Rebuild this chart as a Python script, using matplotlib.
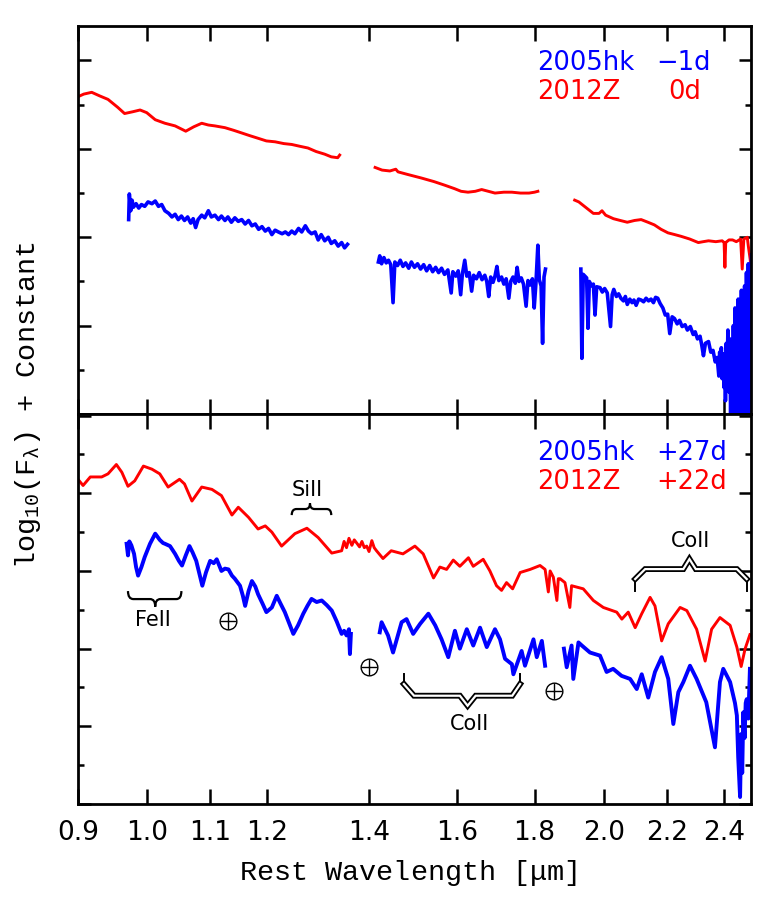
import matplotlib
matplotlib.use("Agg")
import matplotlib.pyplot as plt
from matplotlib.path import Path
from matplotlib.patches import PathPatch
from matplotlib.ticker import FixedLocator, NullLocator, MultipleLocator

plt.rcParams["font.family"] = ["DejaVu Sans"]
plt.rcParams["mathtext.fontset"] = "custom"
plt.rcParams["mathtext.rm"] = "Liberation Mono"
plt.rcParams["mathtext.it"] = "Liberation Mono:italic"
plt.rcParams["mathtext.default"] = "rm"

# ---- data (rest wavelength in micron, log flux + constant) ----
# top panel: 2012Z at 0d (red)
z12_max_w1 = [0.900, 0.908, 0.919, 0.930, 0.942, 0.956, 0.966, 0.978, 0.989, 0.999,
              1.012, 1.027, 1.043, 1.060, 1.073, 1.086, 1.097, 1.108, 1.125, 1.140,
              1.154, 1.168, 1.183, 1.198, 1.214, 1.230, 1.245, 1.260, 1.276, 1.292,
              1.309, 1.322, 1.335, 1.339]
z12_max_f1 = [3.59, 3.62, 3.64, 3.60, 3.56, 3.47, 3.40, 3.42, 3.44, 3.41,
              3.33, 3.29, 3.26, 3.20, 3.25, 3.29, 3.27, 3.26, 3.24, 3.21,
              3.18, 3.15, 3.12, 3.09, 3.08, 3.06, 3.05, 3.03, 3.01, 2.97,
              2.94, 2.91, 2.90, 2.93]
z12_max_w2 = [1.413, 1.428, 1.445, 1.458, 1.463, 1.485, 1.516, 1.545, 1.570, 1.594,
              1.610, 1.627, 1.645, 1.661, 1.678, 1.695, 1.718, 1.739, 1.762, 1.785,
              1.800, 1.809]
z12_max_f2 = [2.79, 2.76, 2.75, 2.77, 2.74, 2.71, 2.67, 2.63, 2.59, 2.55,
              2.52, 2.51, 2.52, 2.54, 2.52, 2.50, 2.51, 2.51, 2.50, 2.50,
              2.51, 2.52]
z12_max_w3 = [1.913, 1.925, 1.948, 1.968, 1.985, 1.994, 2.005, 2.029, 2.050, 2.072,
              2.095, 2.116, 2.138, 2.159, 2.181, 2.204, 2.227, 2.249, 2.278, 2.308,
              2.325, 2.344, 2.370, 2.393, 2.400, 2.403, 2.406, 2.418, 2.431, 2.445,
              2.461, 2.467, 2.473, 2.486, 2.490, 2.497, 2.502]
z12_max_f3 = [2.42, 2.40, 2.33, 2.27, 2.27, 2.30, 2.25, 2.21, 2.19, 2.17,
              2.19, 2.20, 2.17, 2.14, 2.09, 2.05, 2.03, 2.01, 1.98, 1.94,
              1.95, 1.96, 1.95, 1.96, 1.94, 1.66, 1.94, 1.97, 1.97, 1.95,
              1.98, 1.64, 1.98, 2.00, 1.90, 1.75, 1.55]

# top panel: 2005hk at -1d (blue)
hk_max_w1 = [0.972, 0.973, 0.975, 0.977, 0.979, 0.983, 0.987, 0.991, 0.996, 1.001,
             1.007, 1.012, 1.017, 1.022, 1.027, 1.033, 1.038, 1.043, 1.048, 1.053,
             1.058, 1.063, 1.068, 1.072, 1.076, 1.080, 1.086, 1.091, 1.097, 1.102,
             1.108, 1.114, 1.119, 1.125, 1.130, 1.136, 1.142, 1.148, 1.154, 1.160,
             1.166, 1.172, 1.178, 1.184, 1.190, 1.196, 1.202, 1.208, 1.214, 1.220,
             1.227, 1.233, 1.239, 1.245, 1.251, 1.258, 1.264, 1.271, 1.277, 1.283,
             1.290, 1.296, 1.302, 1.309, 1.316, 1.322, 1.329, 1.336, 1.343, 1.349,
             1.355]
hk_max_f1 = [2.20, 2.49, 2.30, 2.42, 2.34, 2.38, 2.33, 2.37, 2.35, 2.40,
             2.38, 2.41, 2.35, 2.37, 2.30, 2.27, 2.23, 2.26, 2.20, 2.24,
             2.19, 2.23, 2.16, 2.21, 2.11, 2.20, 2.25, 2.22, 2.30, 2.23,
             2.25, 2.20, 2.24, 2.19, 2.23, 2.17, 2.22, 2.18, 2.20, 2.15,
             2.19, 2.13, 2.15, 2.09, 2.12, 2.07, 2.10, 2.03, 2.08, 2.06,
             2.04, 2.06, 2.03, 2.07, 2.04, 2.10, 2.06, 2.13, 2.07, 2.04,
             2.06, 1.97, 2.03, 1.96, 2.00, 1.93, 1.96, 1.90, 1.94, 1.88,
             1.92]
hk_max_w2 = [1.420, 1.423, 1.427, 1.432, 1.437, 1.442, 1.447, 1.452, 1.456, 1.462,
             1.468, 1.474, 1.480, 1.487, 1.493, 1.500, 1.507, 1.514, 1.521, 1.528,
             1.535, 1.542, 1.549, 1.556, 1.563, 1.570, 1.578, 1.586, 1.590, 1.597,
             1.603, 1.609, 1.613, 1.619, 1.624, 1.630, 1.636, 1.641, 1.648, 1.655,
             1.662, 1.669, 1.674, 1.679, 1.684, 1.690, 1.695, 1.700, 1.705, 1.712,
             1.718, 1.724, 1.731, 1.736, 1.742, 1.748, 1.753, 1.758, 1.764, 1.770,
             1.777, 1.782, 1.788, 1.794, 1.799, 1.804, 1.809, 1.813, 1.818, 1.822,
             1.826, 1.830]
hk_max_f2 = [1.72, 1.79, 1.70, 1.77, 1.71, 1.74, 1.69, 1.26, 1.72, 1.68,
             1.74, 1.67, 1.71, 1.65, 1.72, 1.66, 1.70, 1.64, 1.69, 1.62,
             1.68, 1.61, 1.66, 1.60, 1.65, 1.58, 1.63, 1.37, 1.61, 1.56,
             1.62, 1.35, 1.58, 1.74, 1.56, 1.60, 1.39, 1.57, 1.53, 1.60,
             1.52, 1.57, 1.50, 1.33, 1.55, 1.49, 1.56, 1.67, 1.51, 1.55,
             1.47, 1.53, 1.31, 1.50, 1.55, 1.48, 1.66, 1.50, 1.54, 1.47,
             1.22, 1.51, 1.46, 1.53, 1.20, 1.50, 1.91, 1.52, 1.45, 0.80,
             1.55, 1.64]
hk_max_w3 = [1.931, 1.934, 1.938, 1.948, 1.952, 1.956, 1.962, 1.968, 1.973, 1.978,
             1.988, 1.995, 2.002, 2.010, 2.020, 2.025, 2.030, 2.038, 2.045, 2.052,
             2.060, 2.066, 2.072, 2.080, 2.087, 2.093, 2.100, 2.108, 2.116, 2.124,
             2.132, 2.140, 2.148, 2.156, 2.163, 2.170, 2.178, 2.187, 2.195, 2.203,
             2.210, 2.218, 2.226, 2.235, 2.243, 2.252, 2.262, 2.270, 2.280, 2.290,
             2.297, 2.305, 2.314, 2.320, 2.326, 2.333, 2.344, 2.352, 2.360, 2.368,
             2.375, 2.381, 2.384, 2.387, 2.390, 2.393, 2.396, 2.400, 2.403, 2.405,
             2.408, 2.411, 2.414, 2.418, 2.421, 2.424, 2.427, 2.431, 2.434, 2.437,
             2.440, 2.443, 2.446, 2.449, 2.452, 2.455, 2.458, 2.461, 2.464, 2.467,
             2.470, 2.473, 2.476, 2.480, 2.483, 2.487, 2.490, 2.493, 2.496, 2.499,
             2.502]
hk_max_f3 = [1.64, 0.63, 1.58, 1.54, 0.97, 1.50, 1.45, 1.47, 1.12, 1.44,
             1.43, 1.38, 1.42, 1.37, 0.99, 1.35, 1.41, 1.33, 1.36, 1.31,
             1.28, 1.33, 1.24, 1.30, 1.26, 1.29, 1.23, 1.30, 1.29, 1.27,
             1.31, 1.28, 1.30, 1.26, 1.32, 1.31, 1.25, 1.20, 1.12, 1.13,
             0.91, 1.10, 1.08, 1.02, 1.06, 0.99, 1.01, 0.95, 0.99, 0.90,
             0.93, 0.85, 0.88, 0.78, 0.66, 0.80, 0.82, 0.70, 0.72, 0.59,
             0.64, 0.43, 0.70, 0.50, 0.75, 0.40, 0.68, 0.30, 0.62, 0.15,
             0.80, 0.45, 0.95, 0.25, 0.85, -0.05, 0.70, -0.10, 1.00, 0.20,
             1.20, -0.10, 0.90, 0.10, 1.30, -0.10, 1.10, 0.30, 1.40, -0.10,
             1.20, 0.20, 1.45, -0.10, 1.60, 0.10, 1.70, -0.10, 1.60, 0.20,
             1.80]

# bottom panel: 2012Z at +22d (red)
z12_late_w = [0.900, 0.907, 0.917, 0.933, 0.942, 0.954, 0.962, 0.971, 0.981, 0.994,
              1.007, 1.019, 1.032, 1.050, 1.058, 1.070, 1.086, 1.103, 1.119, 1.137,
              1.148, 1.166, 1.183, 1.196, 1.208, 1.226, 1.251, 1.274, 1.296, 1.323,
              1.343, 1.348, 1.353, 1.358, 1.364, 1.369, 1.374, 1.380, 1.385, 1.390,
              1.395, 1.400, 1.406, 1.411, 1.416, 1.430, 1.448, 1.474, 1.501, 1.520,
              1.544, 1.559, 1.575, 1.591, 1.607, 1.628, 1.640, 1.665, 1.682, 1.699,
              1.712, 1.725, 1.741, 1.761, 1.788, 1.815, 1.829, 1.838, 1.843, 1.852,
              1.862, 1.866, 1.871, 1.885, 1.899, 1.904, 1.938, 1.968, 1.998, 2.039,
              2.055, 2.075, 2.097, 2.118, 2.145, 2.161, 2.183, 2.205, 2.245, 2.268,
              2.302, 2.332, 2.355, 2.385, 2.422, 2.447, 2.463, 2.478, 2.496]
z12_late_f = [4.18, 4.10, 4.21, 4.21, 4.25, 4.37, 4.27, 4.09, 4.16, 4.35,
              4.31, 4.25, 4.08, 4.18, 4.12, 3.90, 4.08, 4.05, 3.97, 3.72,
              3.82, 3.69, 3.54, 3.58, 3.50, 3.32, 3.48, 3.55, 3.43, 3.23,
              3.26, 3.38, 3.30, 3.42, 3.33, 3.40, 3.36, 3.31, 3.38, 3.30,
              3.32, 3.25, 3.39, 3.30, 3.26, 3.16, 3.26, 3.22, 3.32, 3.22,
              2.91, 3.05, 3.02, 3.14, 3.06, 3.17, 3.06, 3.15, 3.00, 2.81,
              2.75, 2.85, 2.77, 2.98, 3.02, 3.07, 3.02, 2.73, 3.00, 2.92,
              2.62, 2.90, 2.90, 2.85, 2.53, 2.81, 2.77, 2.62, 2.53, 2.47,
              2.38, 2.47, 2.27, 2.45, 2.66, 2.55, 2.10, 2.32, 2.53, 2.49,
              2.25, 1.84, 2.25, 2.40, 2.30, 2.02, 1.77, 2.00, 2.18]

# bottom panel: 2005hk at +27d (blue)
hk_late_w1 = [0.969, 0.971, 0.973, 0.976, 0.980, 0.983, 0.986, 0.991, 0.996, 1.004,
              1.012, 1.019, 1.024, 1.027, 1.035, 1.043, 1.049, 1.054, 1.060, 1.066,
              1.071, 1.077, 1.082, 1.087, 1.093, 1.100, 1.106, 1.111, 1.119, 1.125,
              1.131, 1.137, 1.142, 1.151, 1.156, 1.160, 1.166, 1.172, 1.178, 1.183,
              1.191, 1.198, 1.208, 1.217, 1.224, 1.232, 1.240, 1.248, 1.257, 1.267,
              1.275, 1.283, 1.293, 1.303, 1.313, 1.323, 1.333, 1.343, 1.348, 1.353,
              1.358, 1.360, 1.362]
hk_late_f1 = [3.35, 3.20, 3.38, 3.33, 3.22, 3.05, 2.94, 3.05, 3.18, 3.35,
              3.48, 3.40, 3.36, 3.35, 3.32, 3.22, 3.13, 3.07, 3.20, 3.32,
              3.24, 3.13, 2.97, 2.81, 2.98, 3.13, 3.10, 3.15, 3.00, 3.03,
              3.02, 2.94, 2.90, 2.81, 2.68, 2.55, 2.74, 2.87, 2.80, 2.70,
              2.58, 2.47, 2.53, 2.68, 2.58, 2.47, 2.33, 2.19, 2.30, 2.45,
              2.55, 2.64, 2.60, 2.62, 2.56, 2.49, 2.35, 2.19, 2.23, 2.17,
              2.25, 1.93, 2.19]
hk_late_w2 = [1.423, 1.427, 1.441, 1.452, 1.471, 1.482, 1.497, 1.513, 1.532, 1.548,
              1.563, 1.579, 1.595, 1.607, 1.624, 1.640, 1.657, 1.674, 1.695, 1.708,
              1.721, 1.739, 1.743, 1.765, 1.774, 1.797, 1.806, 1.820, 1.829]
hk_late_f2 = [2.21, 2.34, 2.17, 1.95, 2.34, 2.38, 2.19, 2.32, 2.45, 2.30,
              2.12, 1.89, 2.23, 2.00, 2.25, 2.04, 2.27, 2.02, 2.25, 2.12,
              1.87, 1.80, 1.67, 1.97, 1.78, 2.12, 1.89, 2.10, 1.78]
hk_late_w3 = [1.882, 1.890, 1.904, 1.909, 1.924, 1.934, 1.958, 1.988, 2.008, 2.028,
              2.054, 2.081, 2.102, 2.118, 2.139, 2.161, 2.183, 2.205, 2.222, 2.239,
              2.256, 2.279, 2.302, 2.336, 2.367, 2.385, 2.397, 2.422, 2.440, 2.447,
              2.452, 2.459, 2.463, 2.467, 2.471, 2.476, 2.480, 2.484, 2.490, 2.496]
hk_late_f3 = [2.00, 1.76, 2.04, 1.61, 2.08, 2.04, 1.95, 1.91, 1.70, 1.74,
              1.65, 1.61, 1.48, 1.67, 1.37, 1.70, 1.89, 1.61, 1.03, 1.44,
              1.57, 1.78, 1.61, 1.31, 0.73, 1.57, 1.74, 1.57, 1.30, 1.14,
              0.60, 0.09, 0.90, 0.40, 1.18, 0.85, 1.30, 1.35, 1.10, 1.74]

xtick_vals = [0.9, 1.0, 1.1, 1.2, 1.4, 1.6, 1.8, 2.0, 2.2, 2.4]
xtick_labels = ["0.9", "1.0", "1.1", "1.2", "1.4", "1.6", "1.8", "2.0", "2.2", "2.4"]

RED = "#ff0000"
BLUE = "#0000ff"

fig = plt.figure(figsize=(7.75, 9.04), dpi=100)
ax1 = fig.add_axes([0.1006, 0.5409, 0.8684, 0.4292])
ax2 = fig.add_axes([0.1006, 0.1095, 0.8684, 0.4314])

for w, f in [(z12_max_w1, z12_max_f1), (z12_max_w2, z12_max_f2), (z12_max_w3, z12_max_f3)]:
    ax1.plot(w, f, color=RED, lw=2.1)
for w, f in [(hk_max_w1, hk_max_f1), (hk_max_w2, hk_max_f2), (hk_max_w3, hk_max_f3)]:
    ax1.plot(w, f, color=BLUE, lw=2.6)

ax2.plot(z12_late_w, z12_late_f, color=RED, lw=2.1)
for w, f in [(hk_late_w1, hk_late_f1), (hk_late_w2, hk_late_f2), (hk_late_w3, hk_late_f3)]:
    ax2.plot(w, f, color=BLUE, lw=2.8)

ax1.set_ylim(0, 4.39)
ax2.set_ylim(0, 5.02)

for ax in (ax1, ax2):
    ax.set_xscale("log")
    ax.set_xlim(0.9, 2.5)
    ax.xaxis.set_major_locator(FixedLocator(xtick_vals))
    ax.xaxis.set_minor_locator(NullLocator())
    ax.yaxis.set_major_locator(MultipleLocator(1))
    ax.yaxis.set_minor_locator(MultipleLocator(0.5))
    ax.tick_params(which="both", direction="in", top=True, right=True,
                   labelleft=False, width=1.8)
    ax.tick_params(axis="x", which="major", length=11)
    ax.tick_params(axis="y", which="major", length=9)
    ax.tick_params(axis="y", which="minor", length=4.5)
    for sp in ax.spines.values():
        sp.set_linewidth(2.0)

ax1.tick_params(labelbottom=False)
ax2.set_xticks(xtick_vals, labels=xtick_labels)
ax2.xaxis.set_minor_locator(NullLocator())
ax2.tick_params(axis="x", labelsize=19, pad=11)

# legends
ax1.text(0.682, 0.9085, "2005hk", color=BLUE, fontsize=18.5, transform=ax1.transAxes, va="center")
ax1.text(0.859, 0.9085, "\u22121d", color=BLUE, fontsize=18.5, transform=ax1.transAxes, va="center")
ax1.text(0.682, 0.8325, "2012Z", color=RED, fontsize=18.5, transform=ax1.transAxes, va="center")
ax1.text(0.877, 0.8325, "0d", color=RED, fontsize=18.5, transform=ax1.transAxes, va="center")
ax2.text(0.682, 0.9038, "2005hk", color=BLUE, fontsize=18.5, transform=ax2.transAxes, va="center")
ax2.text(0.859, 0.9038, "+27d", color=BLUE, fontsize=18.5, transform=ax2.transAxes, va="center")
ax2.text(0.682, 0.8295, "2012Z", color=RED, fontsize=18.5, transform=ax2.transAxes, va="center")
ax2.text(0.859, 0.8295, "+22d", color=RED, fontsize=18.5, transform=ax2.transAxes, va="center")


def curly_brace(ax, x0, x1, xm, y_end, y_mid, y_tip, d):
    verts = [(x0, y_end), (x0, y_mid), (x0 + d, y_mid), (xm - d, y_mid),
             (xm, y_mid), (xm, y_tip), (xm, y_mid), (xm + d, y_mid),
             (x1 - d, y_mid), (x1, y_mid), (x1, y_end)]
    codes = [Path.MOVETO, Path.CURVE3, Path.CURVE3, Path.LINETO,
             Path.CURVE3, Path.CURVE3, Path.CURVE3, Path.CURVE3,
             Path.LINETO, Path.CURVE3, Path.CURVE3]
    ax.add_patch(PathPatch(Path(verts, codes), fc="none", ec="k", lw=1.6))


def double_bracket(ax, xs, ys):
    ax.plot(xs[:2], ys[:2], color="k", lw=1.4)
    ax.plot(xs[-2:], ys[-2:], color="k", lw=1.4)
    ax.plot(xs[1:-1], ys[1:-1], color="k", lw=4.2, solid_joinstyle="miter")
    ax.plot(xs[1:-1], ys[1:-1], color="white", lw=1.6, solid_joinstyle="miter")


curly_brace(ax2, 0.971, 1.053, 1.012, 2.741, 2.638, 2.54, 0.008)
ax2.text(1.009, 2.381, "FeII", fontsize=15, ha="center", va="center")
curly_brace(ax2, 1.245, 1.322, 1.280, 3.719, 3.797, 3.87, 0.009)
ax2.text(1.274, 4.06, "SiII", fontsize=15, ha="center", va="center")

double_bracket(ax2, [1.476, 1.476, 1.499, 1.607, 1.626, 1.646, 1.740, 1.761, 1.761],
               [1.673, 1.544, 1.394, 1.394, 1.265, 1.394, 1.394, 1.544, 1.673])
ax2.text(1.63, 1.042, "CoII", fontsize=15, ha="center", va="center")
double_bracket(ax2, [2.097, 2.097, 2.129, 2.256, 2.277, 2.299, 2.447, 2.484, 2.484],
               [2.745, 2.896, 3.024, 3.024, 3.153, 3.024, 3.024, 2.896, 2.745])
ax2.text(2.279, 3.398, "CoII", fontsize=15, ha="center", va="center")

# telluric markers
for tx, ty in [(1.131, 2.359), (1.400, 1.759), (1.853, 1.461)]:
    ax2.plot(tx, ty, marker="o", ms=12, mfc="none", mec="k", mew=1.0)
    ax2.plot(tx, ty, marker="+", ms=12, mec="k", mew=1.0)

fig.text(408 / 775, 1 - 873 / 904, r"Rest Wavelength [$\mu$m]", fontfamily="Liberation Mono",
         fontsize=20.5, ha="center", va="center")
fig.text(28 / 775, 1 - 405 / 904, r"log$_{10}$(F$_{\lambda}$) + Constant",
         fontfamily="Liberation Mono", fontsize=20.5, rotation=90, ha="center", va="center")

fig.savefig("out.png", dpi=100)
